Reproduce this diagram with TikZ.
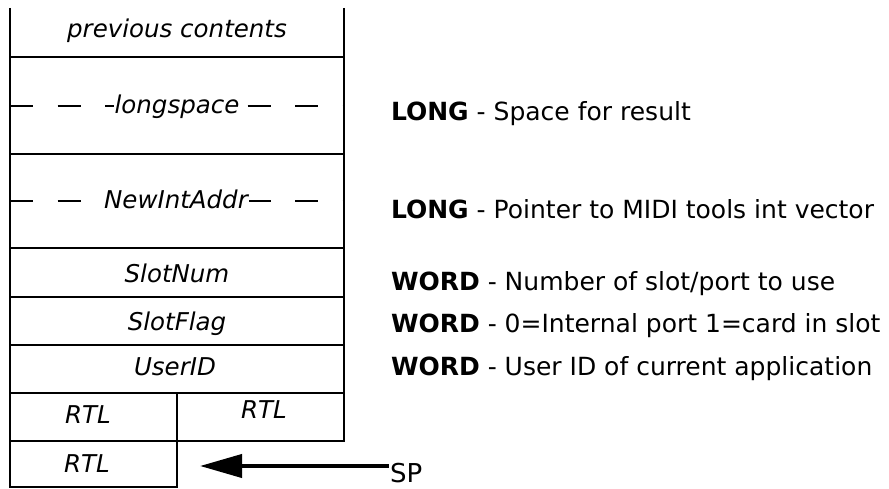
\documentclass[tikz,border=0pt]{standalone}
\usepackage{fontspec}
\setmainfont{DejaVu Sans}
\usetikzlibrary{arrows.meta}

\begin{document}
\begin{tikzpicture}[x=1pt, y=-1pt, line width=2pt,
    field/.style={font=\fontsize{24.5}{28}\selectfont\itshape, anchor=base, inner sep=0pt},
    longfield/.style={field, fill=white, inner xsep=1pt},
    note/.style={font=\fontsize{25}{30}\selectfont, anchor=base west, inner sep=0pt},
    splitline/.style={dash pattern=on 23pt off 24.5pt}]
    \useasboundingbox (0,0) rectangle (889,489);

    % stack frame
    \draw (10,8) -- (10,487) -- (177,487) -- (177,393);
    \draw (344,8) -- (344,441) -- (10,441);
    \foreach \y in {57,154,248,297,345,393}
    \draw (10,\y) -- (344,\y);
    \draw[splitline] (10,106) -- (344,106);
    \draw[splitline] (10,201) -- (344,201);

    % stack fields
    \node[field] (prev) at (177,38) {previous contents};
    \node[longfield] (space) at (177,114) {longspace};
    \node[longfield] (addr) at (176,209) {NewIntAddr};
    \node[field] (slot) at (177,283) {SlotNum};
    \node[field] (flag) at (177,330) {SlotFlag};
    \node[field] (user) at (175,375) {UserID};
    \node[field] (rtla) at (88,423) {RTL};
    \node[field] (rtlb) at (264,418) {RTL};
    \node[field] (rtlc) at (87,472) {RTL};

    % descriptions
    \node[note] (dspace) at (390,121) {\textbf{LONG} - Space for result};
    \node[note] (daddr) at (390,219) {\textbf{LONG} - Pointer to MIDI tools int vector};
    \node[note] (dslot) at (390,290) {\textbf{WORD} - Number of slot/port to use};
    \node[note] (dflag) at (390,332) {\textbf{WORD} - 0=Internal port 1=card in slot};
    \node[note] (duser) at (390,375) {\textbf{WORD} - User ID of current application};

    % stack pointer
    \node[note, font=\fontsize{26}{30}\selectfont] (sp) at (389,482) {SP};
    \coordinate (tip) at (200,466);
    \draw[{Triangle[length=42pt,width=23pt]}-, line width=4pt] (tip) -- (tip -| sp.west);

\end{tikzpicture}
\end{document}
